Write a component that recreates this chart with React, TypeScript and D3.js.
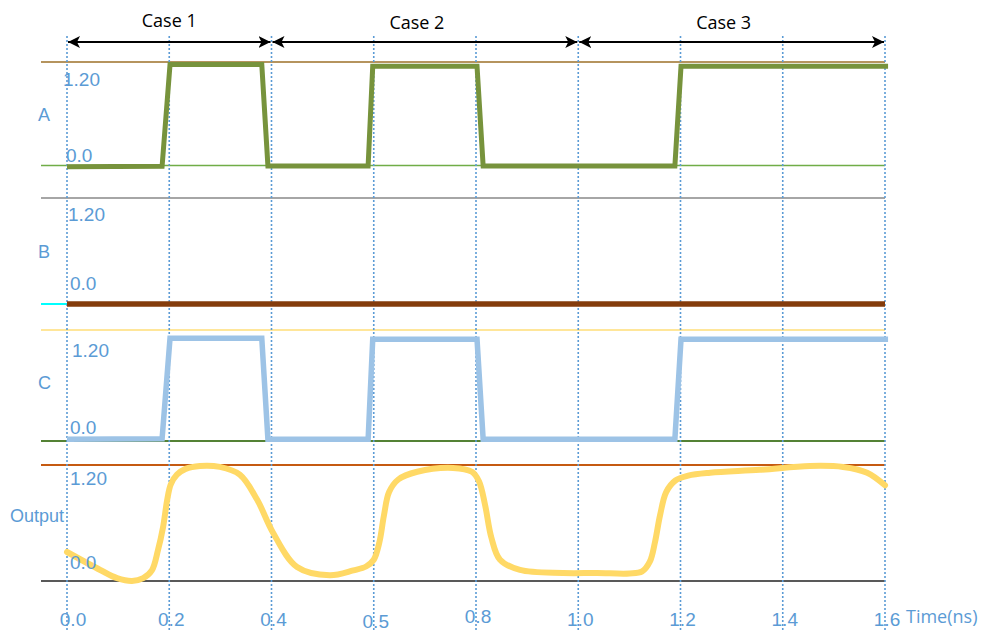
import React from "react";
import * as d3 from "d3";

// ---- data ----
const gridTimes = [0, 0.2, 0.4, 0.6, 0.8, 1.0, 1.2, 1.4, 1.6];
const tickLabels = ["0.0", "0.2", "0.4", "0.5", "0.8", "1.0", "1.2", "1.4", "1.6"];

const caseNames = ["Case 1", "Case 2", "Case 3"];
const caseStart = [0, 0.4, 1.0];
const caseEnd = [0.4, 1.0, 1.6];

const timeA = [0, 0.186, 0.2015, 0.381, 0.393, 0.589, 0.598, 0.802, 0.814, 1.189, 1.201, 1.606];
const valA = [-0.015, -0.01, 1.17, 1.17, -0.005, -0.005, 1.15, 1.15, -0.005, -0.005, 1.15, 1.15];

const timeB = [0, 1.6];
const valB = [0, 0];

const timeC = [0, 0.186, 0.2015, 0.381, 0.393, 0.589, 0.598, 0.802, 0.814, 1.189, 1.201, 1.606];
const valC = [0.02, 0.025, 1.11, 1.11, 0.02, 0.02, 1.1, 1.1, 0.02, 0.02, 1.1, 1.1];

const timeOut = [0, 0.065, 0.098, 0.127, 0.149, 0.166, 0.178, 0.188, 0.196, 0.203, 0.215, 0.232, 0.26, 0.299,
  0.338, 0.372, 0.403, 0.45, 0.514, 0.56, 0.585, 0.6, 0.611, 0.62, 0.63, 0.648, 0.685, 0.755, 0.792, 0.806,
  0.818, 0.83, 0.847, 0.886, 0.97, 1.037, 1.1, 1.125, 1.14, 1.15, 1.16, 1.172, 1.19, 1.215, 1.258, 1.355,
  1.453, 1.518, 1.565, 1.6];
const valOut = [0.3, 0.114, 0.03, 0.0, 0.03, 0.11, 0.32, 0.56, 0.84, 1.0, 1.1, 1.16, 1.19, 1.18,
  1.1, 0.84, 0.5, 0.145, 0.06, 0.11, 0.15, 0.22, 0.4, 0.68, 0.92, 1.05, 1.13, 1.17, 1.13, 1.03,
  0.78, 0.45, 0.22, 0.114, 0.083, 0.083, 0.078, 0.1, 0.2, 0.4, 0.68, 0.92, 1.04, 1.09, 1.12, 1.15,
  1.19, 1.18, 1.12, 0.99];

const panelNames = ["A", "B", "C", "Output"];
const panelTicks = ["1.20", "0.0"];

// ---- layout ----
const W = 986, H = 632;
const x = d3.scaleLinear().domain([0, 1.6]).range([67, 885]);
const lineLeft = 41;

const panels = [
  { zero: 165.5, top: 62, topColor: "#9c7028", zeroColor: "#70ad47", topW: 1.6, zeroW: 1.6,
    hiDy: 17, loDy: -10.5, hiX: 63, loX: 66, nameY: 115, nameX: 38 },
  { zero: 304, top: 198, topColor: "#a6a6a6", zeroColor: "#00ffff", topW: 2, zeroW: 2,
    hiDy: 16, loDy: -21, hiX: 68, loX: 70, nameY: 252, nameX: 38 },
  { zero: 441, top: 330, topColor: "#ffe699", zeroColor: "#548235", topW: 2, zeroW: 2,
    hiDy: 20, loDy: -14, hiX: 72, loX: 70, nameY: 383, nameX: 38 },
  { zero: 581, top: 465, topColor: "#c55a11", zeroColor: "#595959", topW: 2, zeroW: 2,
    hiDy: 13, loDy: -19, hiX: 70, loX: 70, nameY: 516, nameX: 10 },
];

const yScales = panels.map((p) => d3.scaleLinear().domain([0, 1.2]).range([p.zero, p.top]));

function pts(ts: number[], vs: number[]): [number, number][] {
  return ts.map((t, i) => [t, vs[i]]);
}

export default function App() {
  const blue = "#5b9bd5";
  const linearGen = (ys: d3.ScaleLinear<number, number>) =>
    d3.line<[number, number]>().x((d) => x(d[0])).y((d) => ys(d[1]));
  const smoothGen = (ys: d3.ScaleLinear<number, number>) =>
    d3.line<[number, number]>().x((d) => x(d[0])).y((d) => ys(d[1])).curve(d3.curveCatmullRom.alpha(0.5));

  const arrowY = 42;
  const labelFont = "'Liberation Sans', Arial, sans-serif";
  const caseFont = "'Open Sans', 'Noto Sans', sans-serif";

  const tickDy = [0, 0, 0, 2, -3, 0, 0, 0, 0];

  return (
    <svg width={W} height={H} style={{ position: "absolute", left: 0, top: 0, background: "#fff" }}>
      <defs>
        <marker id="ah" viewBox="0 0 12 12" refX="12" refY="6" markerWidth="12" markerHeight="12"
          markerUnits="userSpaceOnUse" orient="auto-start-reverse">
          <path d="M0,0 L12,6 L0,12 L3,6 Z" fill="#000" />
        </marker>
      </defs>

      {/* horizontal reference lines */}
      {panels.map((p, i) => (
        <g key={"h" + i}>
          <line x1={lineLeft} x2={885} y1={p.top} y2={p.top} stroke={p.topColor} strokeWidth={p.topW} />
          <line x1={lineLeft} x2={885} y1={p.zero} y2={p.zero} stroke={p.zeroColor} strokeWidth={p.zeroW} />
        </g>
      ))}

      {/* dotted vertical grid */}
      {gridTimes.map((t, i) => (
        <line key={"v" + i} x1={x(t)} x2={x(t)} y1={36} y2={H} stroke={blue} strokeWidth={1.6}
          strokeDasharray="2,2" />
      ))}

      {/* signals */}
      <path d={linearGen(yScales[0])(pts(timeA, valA)) || ""} fill="none" stroke="#77933c" strokeWidth={5} />
      <path d={linearGen(yScales[1])(pts(timeB, valB)) || ""} fill="none" stroke="#843c0c" strokeWidth={5.5} />
      <path d={linearGen(yScales[2])(pts(timeC, valC)) || ""} fill="none" stroke="#9dc3e6" strokeWidth={5.5} />
      <path d={smoothGen(yScales[3])(pts(timeOut, valOut)) || ""} fill="none" stroke="#ffd966" strokeWidth={6}
        strokeLinecap="round" strokeLinejoin="round" />

      {/* panel labels */}
      {panels.map((p, i) => (
        <g key={"l" + i} fontFamily={labelFont} fill={blue} fontSize={19}>
          <text x={p.hiX} y={p.top + p.hiDy} dominantBaseline="central">{panelTicks[0]}</text>
          <text x={p.loX} y={p.zero + p.loDy} dominantBaseline="central">{panelTicks[1]}</text>
          <text x={p.nameX} y={p.nameY} dominantBaseline="central" fontSize={18}>{panelNames[i]}</text>
        </g>
      ))}

      {/* time axis labels */}
      {gridTimes.map((t, i) => (
        <text key={"t" + i} x={x(t) + (i === 0 ? 6 : 2)} y={619 + tickDy[i]} textAnchor="middle"
          dominantBaseline="central" fontFamily={labelFont} fontSize={19} fill={blue}>
          {tickLabels[i]}
        </text>
      ))}
      <text x={906} y={616} dominantBaseline="central" fontFamily={caseFont} fontSize={18} fill={blue}>
        Time(ns)
      </text>

      {/* case arrows */}
      {caseNames.map((c, i) => (
        <g key={"c" + i}>
          <line x1={x(caseStart[i]) + 1} x2={x(caseEnd[i]) - 1} y1={arrowY} y2={arrowY} stroke="#000"
            strokeWidth={2} markerStart="url(#ah)" markerEnd="url(#ah)" />
          <text x={(x(caseStart[i]) + x(caseEnd[i])) / 2 + (i === 0 ? 0 : -8)} y={i === 0 ? 20 : 22}
            textAnchor="middle" dominantBaseline="central" fontFamily={caseFont} fontSize={18} fill="#000">
            {c}
          </text>
        </g>
      ))}
    </svg>
  );
}
